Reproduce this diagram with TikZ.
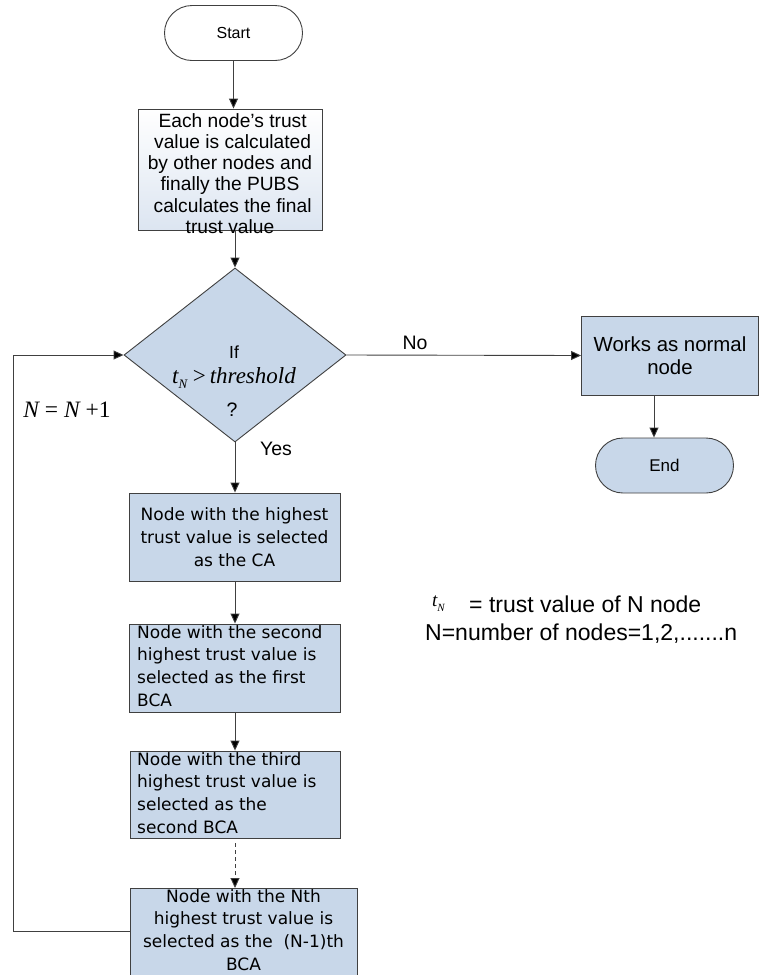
\documentclass[tikz,border=0pt]{standalone}
\usepackage{fontspec}
\setmainfont{Liberation Sans}
\newfontfamily\verd{DejaVu Sans}
\newfontfamily\tms{Liberation Serif}
\usetikzlibrary{shapes.geometric,shapes.misc,arrows.meta,calc}
\definecolor{boxblue}{HTML}{C8D7E9}
\definecolor{paleblue}{HTML}{DCE5F1}
\definecolor{edgegray}{HTML}{404040}
% italic t with subscript N, sized from the current font
\newcommand{\tN}[1]{{\tms\itshape t}\raisebox{-0.25em}{\fontsize{#1}{#1}\tms\itshape N}}
\begin{document}
\begin{tikzpicture}[x=1pt,y=-1pt,
  box/.style={draw=edgegray,line width=0.9pt,fill=boxblue,inner sep=0pt},
  pill/.style={draw=edgegray,line width=0.9pt,rounded rectangle,inner sep=0pt,
    minimum width=138pt,minimum height=55pt,font=\fontsize{16}{18}\selectfont},
  arr/.style={draw=edgegray,line width=0.9pt,-{Triangle[length=10pt,width=9pt,fill=black]}},
  lbl/.style={inner sep=0pt,font=\fontsize{19.5}{22}\selectfont},
  vtext/.style={font=\verd\fontsize{17}{22.8}\selectfont}]
\useasboundingbox (0,0) rectangle (759,975);

% terminals
\node[pill,fill=white] (start) at (233.5,33) {Start};
\node[pill,fill=boxblue,font=\fontsize{17}{19}\selectfont] (end) at (664.5,465.5) {End};

% trust computation step
\node[box,top color=white,bottom color=paleblue,minimum width=184pt,minimum height=121pt] (calc) at (230,169.5) {};
\node[inner sep=0pt,align=center,font=\fontsize{19.2}{21.2}\selectfont] (calct) at (230,173.5)
  {\ Each node's trust\\ \ value is calculated\\by other nodes and\\finally the PUBS\ \ \\ \ calculates the final\\trust value\hspace{3.2em}};

% decision
\node[diamond,box,minimum width=222pt,minimum height=174pt,aspect=1.276] (dec) at (235,355) {};
\node[lbl,font=\fontsize{17.5}{19}\selectfont] (if) at (234,352) {If};
\node[inner sep=0pt,font=\tms\fontsize{23}{25}\selectfont] (cond) at (234,378)
  {\tN{13}\ {\tms >}\,{\itshape threshold}};
\node[lbl] (q) at (232,410) {?};

% normal node branch
\node[box,minimum width=177pt,minimum height=79pt,align=center,
  font=\fontsize{20.4}{23}\selectfont] (normal) at (670,355.5) {Works as normal\\node};

% selection chain
\node[box,minimum width=211pt,minimum height=88pt,align=center,vtext] (ca) at (234.5,537)
  {Node with the highest\\trust value is selected\\as the CA};
\node[box,minimum width=211pt,minimum height=88pt] (bca1) at (234.5,668) {};
\node[vtext,align=left,anchor=north west,inner sep=0pt] (bca1t) at (137,625)
  {Node with the second\\highest trust value is\\selected as the first\\BCA};
\node[box,minimum width=210pt,minimum height=87pt] (bca2) at (235,794.5) {};
\node[vtext,align=left,anchor=north west,inner sep=0pt] (bca2t) at (137,752)
  {Node with the third\\highest trust value is\\selected as the\\second BCA};
\node[box,minimum width=227pt,minimum height=100pt,anchor=north west] (bcan) at (130,888) {};
\node[vtext,align=center,anchor=north,inner sep=0pt] (bcant) at (243.5,889)
  {Node with the Nth\\highest trust value is\\selected as the\ \ (N-1)th\\BCA};

% connectors
\draw[arr] (start.south) -- (calc.north -| start.south);
\draw[arr] (calc.south -| dec.north) -- (dec.north);
\draw[arr] (dec.east) -- (normal.west);
\draw[arr] (normal.south -| 654,0) -- (end.north -| 654,0);
\draw[arr] (dec.south) -- (ca.north -| dec.south);
\draw[arr] (ca.south -| dec.south) -- (bca1.north -| dec.south);
\draw[arr] (bca1.south -| dec.south) -- (bca2.north -| dec.south);
\draw[arr,dashed,dash pattern=on 4pt off 3pt] ($(bca2.south -| dec.south)+(0,5)$) -- (bcan.north -| dec.south);
\coordinate (loopc) at (13,931);
\draw[arr] (bcan.west |- loopc) -- (loopc) |- (dec.west);

% branch labels
\node[lbl] (no) at (415,343) {No};
\node[lbl] (yes) at (276,449) {Yes};
\node[inner sep=0pt,font=\tms\itshape\fontsize{23.5}{25}\selectfont] (inc) at (67,410)
  {N {\upshape =} N {\upshape +1}};

% legend
\node[inner sep=0pt,anchor=west,font=\fontsize{19}{21}\selectfont] (legt) at (432,604) {\tN{11}};
\node[inner sep=0pt,anchor=west,font=\fontsize{23}{25}\selectfont] (leg1) at (469,604)
  {= trust value of N node};
\node[inner sep=0pt,anchor=west,font=\fontsize{23}{25}\selectfont] (leg2) at (425,634)
  {N=number of nodes=1,2,.......n};
\end{tikzpicture}
\end{document}
